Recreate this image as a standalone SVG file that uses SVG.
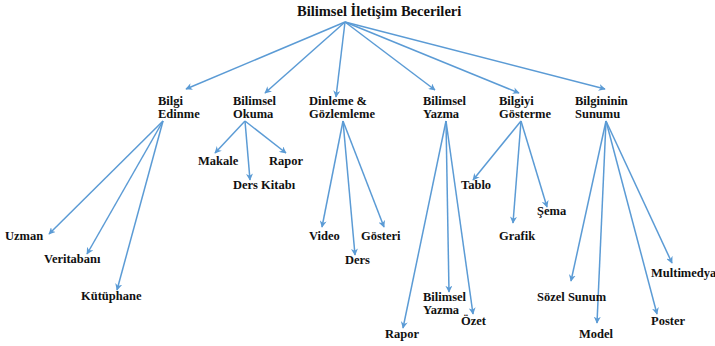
<svg xmlns="http://www.w3.org/2000/svg" width="715" height="346" viewBox="0 0 715 346">
<defs>
<marker id="ah" viewBox="0 0 10 10" refX="9" refY="5" markerWidth="7" markerHeight="7" orient="auto" markerUnits="userSpaceOnUse">
<path d="M0,0 L10,5 L0,10 L3,5 Z" fill="#5b9bd5"/>
</marker>
</defs>
<style>
.c line{stroke:#5b9bd5;stroke-width:1.5;marker-end:url(#ah)}
</style>
<rect width="715" height="346" fill="#fff"/>
<g id="connectors" class="c">
<line x1="345" y1="22" x2="186" y2="89"/>
<line x1="345" y1="22" x2="265" y2="93"/>
<line x1="345" y1="22" x2="336" y2="97"/>
<line x1="345" y1="22" x2="435" y2="90"/>
<line x1="345" y1="22" x2="519" y2="93"/>
<line x1="345" y1="22" x2="605" y2="89"/>
<line x1="163" y1="121" x2="49" y2="234"/>
<line x1="163" y1="121" x2="87" y2="254"/>
<line x1="163" y1="121" x2="117" y2="290"/>
<line x1="245" y1="121" x2="215" y2="153"/>
<line x1="245" y1="121" x2="250" y2="180"/>
<line x1="245" y1="121" x2="286" y2="153"/>
<line x1="343" y1="121" x2="322" y2="227"/>
<line x1="343" y1="121" x2="355" y2="255"/>
<line x1="343" y1="121" x2="384" y2="227"/>
<line x1="446" y1="121" x2="403" y2="328"/>
<line x1="446" y1="121" x2="449" y2="292"/>
<line x1="446" y1="121" x2="473" y2="314"/>
<line x1="521" y1="121" x2="473" y2="180"/>
<line x1="521" y1="121" x2="513" y2="223"/>
<line x1="521" y1="121" x2="547" y2="207"/>
<line x1="606" y1="121" x2="571" y2="281"/>
<line x1="606" y1="121" x2="597" y2="323"/>
<line x1="606" y1="121" x2="657" y2="314"/>
<line x1="606" y1="121" x2="672" y2="263"/>
</g>
<g font-family="Liberation Serif, Times New Roman, DejaVu Serif, serif" font-weight="bold" font-size="12.5" fill="#111">
<g id="root"><text font-size="14.5" x="297" y="16">Bilimsel İletişim Becerileri</text></g>
<g id="bilgi-edinme"><text x="158" y="105">Bilgi</text><text x="158" y="118">Edinme</text></g>
<g id="bilimsel-okuma"><text x="233" y="105">Bilimsel</text><text x="233" y="118">Okuma</text></g>
<g id="dinleme"><text x="309" y="105">Dinleme &amp;</text><text x="309" y="118">Gözlemleme</text></g>
<g id="bilimsel-yazma"><text x="423" y="105">Bilimsel</text><text x="423" y="118">Yazma</text></g>
<g id="bilgiyi-gosterme"><text x="499" y="105">Bilgiyi</text><text x="499" y="118">Gösterme</text></g>
<g id="bilgi-sunumu"><text x="575" y="105">Bilgininin</text><text x="575" y="118">Sunumu</text></g>
<g id="uzman"><text x="5" y="240">Uzman</text></g>
<g id="veritabani"><text x="44" y="263">Veritabanı</text></g>
<g id="kutuphane"><text x="81" y="300">Kütüphane</text></g>
<g id="makale"><text x="198" y="165">Makale</text></g>
<g id="rapor1"><text x="269" y="165">Rapor</text></g>
<g id="ders-kitabi"><text x="233" y="189">Ders Kitabı</text></g>
<g id="video"><text x="309" y="240">Video</text></g>
<g id="ders"><text x="345" y="264">Ders</text></g>
<g id="gosteri"><text x="361" y="240">Gösteri</text></g>
<g id="rapor2"><text x="385" y="338">Rapor</text></g>
<g id="bilimsel-yazma2"><text x="423" y="301">Bilimsel</text><text x="423" y="314">Yazma</text></g>
<g id="ozet"><text x="461" y="325">Özet</text></g>
<g id="tablo"><text x="461" y="189">Tablo</text></g>
<g id="grafik"><text x="499" y="240">Grafik</text></g>
<g id="sema"><text x="537" y="215">Şema</text></g>
<g id="sozel-sunum"><text x="537" y="301">Sözel Sunum</text></g>
<g id="model"><text x="579" y="338">Model</text></g>
<g id="poster"><text x="651" y="325">Poster</text></g>
<g id="multimedya"><text x="651" y="277">Multimedya</text></g>
</g>
</svg>
